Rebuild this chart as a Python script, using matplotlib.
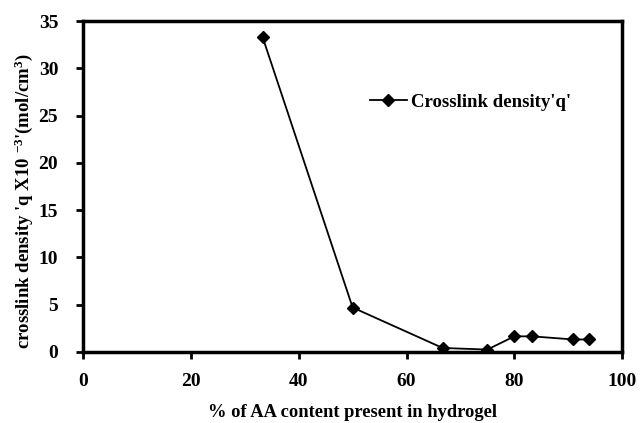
import numpy as np
import matplotlib
matplotlib.use("Agg")
import matplotlib.pyplot as plt

# data
aa_content = [33.3, 50.0, 66.7, 75.0, 80.0, 83.3, 90.9, 93.8]
crosslink_q = [33.3, 4.7, 0.42, 0.25, 1.65, 1.65, 1.32, 1.32]

x_ticks = [0, 20, 40, 60, 80, 100]
y_ticks = [0, 5, 10, 15, 20, 25, 30, 35]

plt.rcParams['font.family'] = ['Liberation Serif', 'DejaVu Serif']
plt.rcParams['font.weight'] = 'bold'
plt.rcParams['mathtext.fontset'] = 'custom'
plt.rcParams['mathtext.rm'] = 'Liberation Serif:bold'
plt.rcParams['mathtext.it'] = 'Liberation Serif:bold'
plt.rcParams['mathtext.bf'] = 'Liberation Serif:bold'

fig = plt.figure(figsize=(6.4, 4.23), dpi=100)
ax = fig.add_axes([0.130, 0.168, 0.842, 0.782])

ax.plot(aa_content, crosslink_q, color='black', lw=1.3, marker='D',
        markersize=6, label="Crosslink density'q'")

ax.set_xlim(0, 100)
ax.set_ylim(0, 35)
ax.set_xticks(x_ticks)
ax.set_yticks(y_ticks)
ax.tick_params(direction='out', width=2, length=5, labelsize=14)
ax.tick_params(axis='x', pad=10)
ax.tick_params(axis='y', pad=13)
for lbl in ax.get_xticklabels() + ax.get_yticklabels():
    lbl.set_fontweight('bold')
for sp in ax.spines.values():
    sp.set_linewidth(2.5)

ax.set_xlabel('% of AA content present in hydrogel', fontsize=13.3,
              fontweight='bold')
ax.xaxis.set_label_coords(0.5, -0.158)
ax.set_ylabel("crosslink density 'q X10 $^{-3}$'(mol/cm$^{3}$)", fontsize=13.5,
              fontweight='bold')
ax.yaxis.set_label_coords(-0.089, 0.456)

leg = ax.legend(loc='center left', bbox_to_anchor=(0.5, 0.755), frameon=False,
                fontsize=13.5, handlelength=2.0, handletextpad=0.2)
for t in leg.get_texts():
    t.set_fontweight('bold')

fig.savefig('out.png', dpi=100)
